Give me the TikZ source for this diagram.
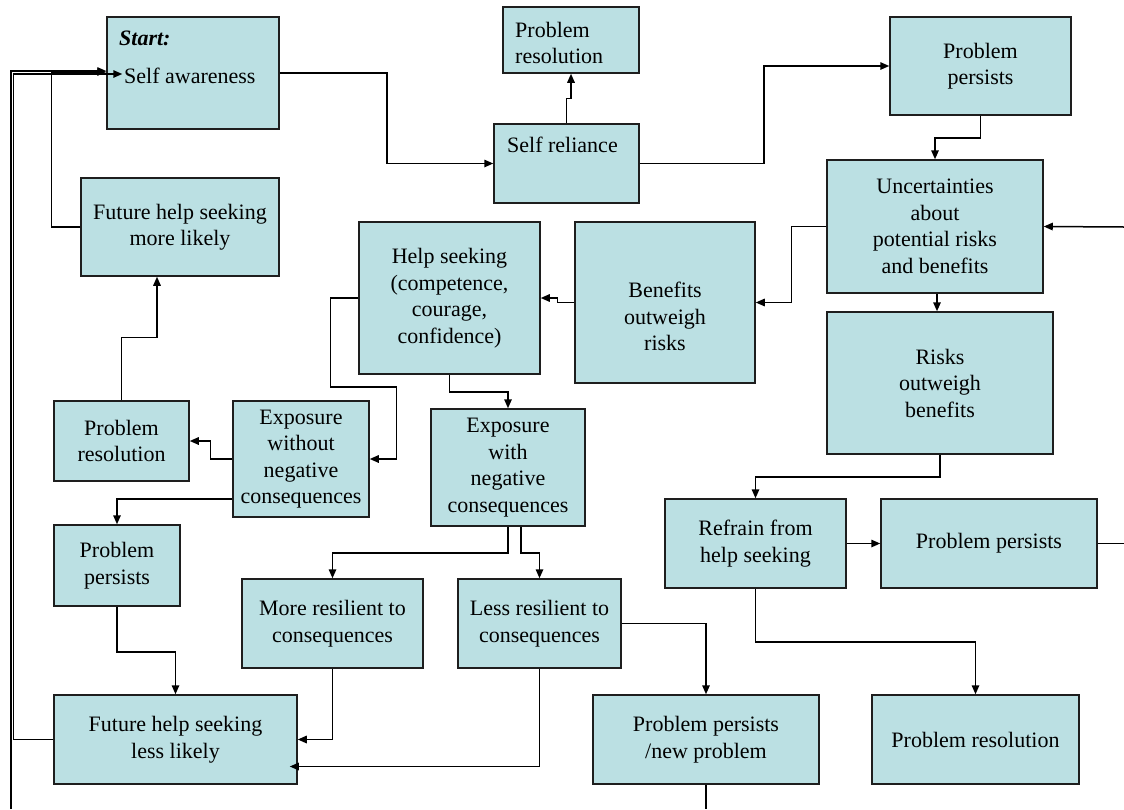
\documentclass[tikz,border=0pt]{standalone}
\usepackage{fontspec}
\setmainfont{Liberation Serif}
\usetikzlibrary{arrows.meta}
\definecolor{blokfill}{RGB}{187,224,227}
\definecolor{blokline}{RGB}{30,30,30}
\tikzset{
  blok/.style={draw=blokline, fill=blokfill, line width=1.5pt, inner sep=0pt,
    align=center, font=\fontsize{22}{26.5}\selectfont},
  lbl/.style={inner sep=0pt, align=left, font=\fontsize{22}{26.5}\selectfont},
  wire/.style={line width=1.5pt, line join=miter},
  arr/.style={wire, -{Triangle[length=9pt,width=7.5pt]}}
}
\begin{document}
\begin{tikzpicture}[x=1pt, y=-1pt]
		\useasboundingbox (0,0) rectangle (1124,809);
		% boxes, top row
		\node[blok, minimum width=172pt, minimum height=112pt] (start) at (193,73) {};
		\node[lbl, anchor=base west] (startlbl) at (119,45) {\textbf{\textit{Start:}}};
		\node[lbl, anchor=base west] (startname) at (124,83) {Self awareness};
		\node[blok, minimum width=136pt, minimum height=66pt] (topres) at (571,40) {};
		\node[lbl, anchor=north west] (toprestxt) at (515,22) {Problem\\resolution};
		\node[blok, minimum width=145pt, minimum height=79pt] (selfrel) at (566.5,163.5) {};
		\node[lbl, anchor=base west] (selfreltxt) at (507,152) {Self reliance};
		\node[blok, minimum width=181pt, minimum height=98pt] (persist1) at (980.5,66) {Problem\\persists};
		\node[blok, minimum width=216pt, minimum height=133pt] (uncert) at (935,226.5) {Uncertainties\\about\\potential risks\\and benefits};
		\node[blok, minimum width=198pt, minimum height=98pt] (futmore) at (180,227) {Future help seeking\\more likely};
		% middle
		\node[blok, minimum width=180pt, minimum height=161pt] (benefits) at (665,302.5) {};
		\node[lbl, align=center] (benefitstxt) at ([yshift=-14pt]benefits.center) {Benefits\\outweigh\\risks};
		\node[blok, minimum width=181pt, minimum height=152pt] (help) at (449.5,298) {Help seeking\\(competence,\\courage,\\confidence)};
		\node[blok, minimum width=226pt, minimum height=142pt] (risks) at (940,383) {Risks\\outweigh\\benefits};
		\node[blok, minimum width=135pt, minimum height=80pt] (resleft) at (121.5,441) {Problem\\resolution};
		\node[blok, minimum width=136pt, minimum height=116pt] (expwo) at (301,459) {Exposure\\without\\negative\\consequences};
		\node[blok, minimum width=154pt, minimum height=117pt] (expw) at (508,467.5) {Exposure\\with\\negative\\consequences};
		\node[blok, minimum width=181pt, minimum height=89pt] (refrain) at (755.5,543.5) {Refrain from\\help seeking};
		\node[blok, minimum width=216pt, minimum height=89pt] (persmid) at (989,543.5) {Problem persists};
		% bottom
		\node[blok, minimum width=126pt, minimum height=81pt] (persleft) at (117,565.5) {Problem\\persists};
		\node[blok, minimum width=181pt, minimum height=89pt] (moreres) at (332.5,623.5) {More resilient to\\consequences};
		\node[blok, minimum width=163pt, minimum height=89pt] (lessres) at (539.5,623.5) {Less resilient to\\consequences};
		\node[blok, minimum width=243pt, minimum height=89pt] (futless) at (175.5,739.5) {Future help seeking\\less likely};
		\node[blok, minimum width=226pt, minimum height=89pt] (persnew) at (706,739.5) {Problem persists\\/new problem};
		\node[blok, minimum width=207pt, minimum height=89pt] (resright) at (975.5,739.5) {Problem resolution};
		% loose ends at the edges
		\coordinate (inR) at (1124,227);
		\coordinate (outR) at (1124,543.5);
		\coordinate (outB) at (706,809);
		\coordinate (inB) at (11,809);
		% connectors
		\draw[arr] (start.east) -- ++(107,0) |- (selfrel.west);
		\draw[arr] (selfrel.north) -- ++(0,-25) -| (topres.south);
		\draw[arr] (selfrel.east) -- ++(124,0) |- (persist1.west);
		\draw[arr] (persist1.south) -- ++(0,22) -| (uncert.north);
		\draw[arr] (inR) -- (uncert.east);
		\draw[arr] (uncert.west) -- ++(-35,0) |- (benefits.east);
		\draw[arr] ([xshift=2pt]uncert.south) -- ([xshift=2pt]uncert.south |- risks.north);
		\draw[arr] (risks.south) -- ++(0,22) -| (refrain.north);
		\draw[arr] (refrain.east) -- (persmid.west);
		\draw[wire] (persmid.east) -- (outR);
		\draw[arr] (refrain.south) -- ++(0,53) -| (resright.north);
		\draw[arr] (benefits.west) -- ++(-17,0) |- (help.east);
		\draw[arr] (help.west) -- ++(-28,0) -- ++(0,89) -- ++(66,0) |- (expwo.east);
		\draw[arr] (help.south) -- ++(0,17) -| (expw.north);
		\draw[arr] (expwo.west) -- ++(-22,0) |- (resleft.east);
		\draw[arr] ([yshift=-40pt]expwo.west) -| (persleft.north);
		\draw[arr] (resleft.north) -- ++(0,-63) -| ([xshift=-23pt]futmore.south);
		\draw[arr] (futmore.west) -- ++(-29,0) |- ([yshift=1pt]start.west);
		\draw[arr] (expw.south) -- ++(0,26) -| (moreres.north);
		\draw[arr] ([xshift=13pt]expw.south) -- ++(0,26) -| (lessres.north);
		\draw[arr] (lessres.east) -| (persnew.north);
		\draw[arr] (lessres.south) |- ([xshift=-8pt,yshift=-27pt]futless.east);
		\draw[arr] (moreres.south) |- (futless.east);
		\draw[arr] (persleft.south) -- ++(0,45) -| (futless.north);
		\draw[arr] (futless.west) -- ++(-40,0) |- ([xshift=16pt,yshift=-1pt]start.west);
		\draw[wire] (persnew.south) -- (outB);
		\draw[arr] (inB) |- ([yshift=2pt]start.west);
\end{tikzpicture}
\end{document}
